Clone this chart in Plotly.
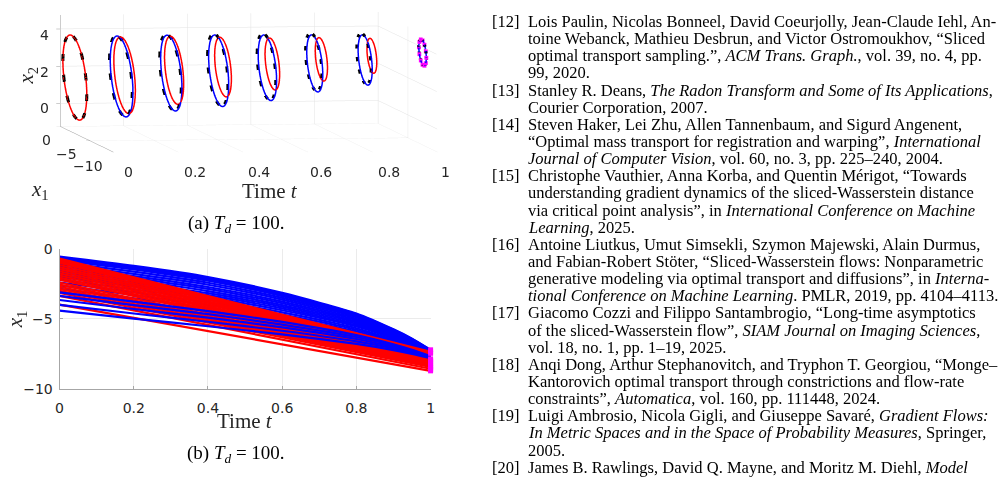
import numpy as np
import plotly.graph_objects as go

W, H = 1007, 488

# ---------------- (a) 3-D snapshots of the particle clouds ----------------
T_SLICES = [0.0, 0.143, 0.286, 0.429, 0.571, 0.714, 0.857, 1.0]
BLACK_C1 = [-2.45, -2.55, -3.25, -3.55, -4.15, -4.45, -5.25, -7.45]
BLACK_C2 = [1.77, 1.85, 2.12, 2.28, 2.52, 2.80, 3.08, 3.73]
BLACK_SCALE = [1.0, 0.95, 0.90, 0.85, 0.78, 0.68, 0.60, 0.31]
BLUE_C1 = [-2.45, -2.67, -3.38, -3.70, -4.30, -4.62, -5.45, -7.45]
BLUE_C2 = [1.77, 1.84, 2.11, 2.26, 2.49, 2.75, 3.04, 3.73]
BLUE_SCALE = [1.0, 0.95, 0.89, 0.84, 0.77, 0.67, 0.59, 0.31]
RED_C1 = [-2.45, -3.17, -3.85, -4.43, -5.13, -5.73, -6.57, -7.45]
RED_C2 = [1.77, 1.98, 2.33, 2.57, 2.82, 3.14, 3.44, 3.73]
RED_SCALE = [1.0, 0.90, 0.80, 0.70, 0.61, 0.51, 0.41, 0.31]
ELL_A = 2.0    # x1 semi-axis of the initial cloud
ELL_B = 2.1    # x2 semi-axis of the initial cloud
ELL_K = 0.59   # x1-x2 coupling (tilt) of the cloud
TARGET_ANGLES_DEG = [0, 30, 60, 90, 120, 150, 180, 210, 240, 270, 300, 330]
T_TICKS = [0, 0.2, 0.4, 0.6, 0.8, 1]
T_TICK_TEXT = ["0", "0.2", "0.4", "0.6", "0.8", "1"]
X1_TICKS = [-10, -5, 0]
X1_TICK_TEXT = ["\u221210", "\u22125", "0"]
X2_TICKS = [0, 2, 4]
X2_TICK_TEXT = ["0", "2", "4"]

# ---------------- (b) x1 trajectories ----------------
BLUE_T = [0.0, 0.2, 0.4, 0.6, 0.8, 0.9, 0.95, 1.0]
BLUE_X1 = [
    [-0.55, -1.22, -2.01, -3.14, -4.61, -5.74, -6.40, -7.20],
    [-0.62, -1.29, -2.09, -3.21, -4.66, -5.77, -6.43, -7.22],
    [-0.70, -1.37, -2.17, -3.28, -4.72, -5.82, -6.47, -7.25],
    [-0.80, -1.47, -2.27, -3.37, -4.79, -5.87, -6.52, -7.28],
    [-0.95, -1.63, -2.42, -3.50, -4.88, -5.94, -6.56, -7.30],
    [-1.10, -1.79, -2.56, -3.62, -4.98, -6.00, -6.61, -7.33],
    [-1.25, -1.94, -2.72, -3.76, -5.08, -6.07, -6.66, -7.36],
    [-1.40, -2.09, -2.86, -3.88, -5.18, -6.15, -6.72, -7.40],
    [-1.55, -2.24, -3.01, -4.01, -5.27, -6.21, -6.76, -7.42],
    [-1.70, -2.40, -3.16, -4.13, -5.36, -6.27, -6.81, -7.45],
    [-1.85, -2.55, -3.30, -4.25, -5.46, -6.34, -6.86, -7.48],
    [-2.00, -2.70, -3.44, -4.38, -5.54, -6.39, -6.90, -7.50],
    [-2.20, -2.89, -3.62, -4.53, -5.66, -6.48, -6.96, -7.53],
    [-2.40, -3.09, -3.81, -4.69, -5.77, -6.55, -7.01, -7.56],
    [-2.60, -3.29, -3.99, -4.84, -5.89, -6.64, -7.08, -7.60],
    [-2.85, -3.53, -4.22, -5.03, -6.02, -6.72, -7.14, -7.63],
    [-3.10, -3.77, -4.44, -5.21, -6.15, -6.81, -7.20, -7.66],
    [-3.35, -4.01, -4.66, -5.40, -6.29, -6.90, -7.27, -7.70],
    [-3.65, -4.29, -4.91, -5.60, -6.43, -7.00, -7.34, -7.73],
    [-4.00, -4.61, -5.20, -5.84, -6.60, -7.10, -7.41, -7.76],
    [-4.40, -4.98, -5.52, -6.10, -6.78, -7.22, -7.49, -7.80],
]
N_BLUE_UNDER = 16          # first blue curves are drawn beneath the red ones
RED_T = [0.0, 1.0]
RED_START = [-0.70, -0.80, -0.90, -1.00, -1.15, -1.30, -1.45, -1.60, -1.75, -1.90,
             -2.05, -2.20, -2.40, -2.55, -2.70, -2.85, -3.00, -3.15, -3.35, -3.98]
RED_END = [-7.35, -7.42, -7.48, -7.55, -7.62, -7.68, -7.74, -7.80, -7.86, -7.92,
           -7.98, -8.04, -8.10, -8.16, -8.22, -8.28, -8.34, -8.42, -8.55, -8.70]
TARGET_T = 1.0
TARGET_X1 = [-7.20, -7.35, -7.45, -7.85, -7.95, -8.05, -8.20, -8.30, -8.40, -8.50, -8.60, -8.70]

# ---------------- reference list (right column) ----------------
REF_NUMS = ["[12]", "[13]", "[14]", "[15]", "[16]", "[17]", "[18]", "[19]", "[20]"]
REF_LINES = [
    ["Lois Paulin, Nicolas Bonneel, David Coeurjolly, Jean-Claude Iehl, An-",
     "toine Webanck, Mathieu Desbrun, and Victor Ostromoukhov, \u201cSliced",
     "optimal transport sampling.\u201d, <i>ACM Trans. Graph.</i>, vol. 39, no. 4, pp.",
     "99, 2020."],
    ["Stanley R. Deans, <i>The Radon Transform and Some of Its Applications</i>,",
     "Courier Corporation, 2007."],
    ["Steven Haker, Lei Zhu, Allen Tannenbaum, and Sigurd Angenent,",
     "\u201cOptimal mass transport for registration and warping\u201d, <i>International</i>",
     "<i>Journal of Computer Vision</i>, vol. 60, no. 3, pp. 225\u2013240, 2004."],
    ["Christophe Vauthier, Anna Korba, and Quentin M\u00e9rigot, \u201cTowards",
     "understanding gradient dynamics of the sliced-Wasserstein distance",
     "via critical point analysis\u201d, in <i>International Conference on Machine</i>",
     "<i>Learning</i>, 2025."],
    ["Antoine Liutkus, Umut Simsekli, Szymon Majewski, Alain Durmus,",
     "and Fabian-Robert St\u00f6ter, \u201cSliced-Wasserstein flows: Nonparametric",
     "generative modeling via optimal transport and diffusions\u201d, in <i>Interna-</i>",
     "<i>tional Conference on Machine Learning</i>. PMLR, 2019, pp. 4104\u20134113."],
    ["Giacomo Cozzi and Filippo Santambrogio, \u201cLong-time asymptotics",
     "of the sliced-Wasserstein flow\u201d, <i>SIAM Journal on Imaging Sciences</i>,",
     "vol. 18, no. 1, pp. 1\u201319, 2025."],
    ["Anqi Dong, Arthur Stephanovitch, and Tryphon T. Georgiou, \u201cMonge\u2013",
     "Kantorovich optimal transport through constrictions and flow-rate",
     "constraints\u201d, <i>Automatica</i>, vol. 160, pp. 111448, 2024."],
    ["Luigi Ambrosio, Nicola Gigli, and Giuseppe Savar\u00e9, <i>Gradient Flows:</i>",
     "<i>In Metric Spaces and in the Space of Probability Measures</i>, Springer,",
     "2005."],
    ["James B. Rawlings, David Q. Mayne, and Moritz M. Diehl, <i>Model</i>"],
]

SERIF = "Liberation Serif"
SANS = "DejaVu Sans"
TICK_COLOR = "#262626"

fig = go.Figure()

# ---- 3-D traces ----
theta = np.linspace(0.0, 2.0 * np.pi, 121)


def cloud(t, c1, c2, s):
    x1 = c1 + s * ELL_A * np.cos(theta)
    x2 = c2 + s * (ELL_B * np.sin(theta) + ELL_K * np.cos(theta))
    return np.full_like(theta, t), x1, x2


last = len(T_SLICES) - 1
for k, t in enumerate(T_SLICES):
    tx, a1, a2 = cloud(t, BLACK_C1[k], BLACK_C2[k], BLACK_SCALE[k])
    fig.add_trace(go.Scatter3d(x=tx, y=a1, z=a2, mode="lines", scene="scene",
                               line=dict(color="black", width=6, dash="longdash"),
                               showlegend=False, hoverinfo="skip"))
for k, t in enumerate(T_SLICES):
    if k != last:
        tx, a1, a2 = cloud(t, RED_C1[k], RED_C2[k], RED_SCALE[k])
        fig.add_trace(go.Scatter3d(x=tx, y=a1, z=a2, mode="lines", scene="scene",
                                   line=dict(color="#ff0000", width=3),
                                   showlegend=False, hoverinfo="skip"))
    if k != 0:
        tx, a1, a2 = cloud(t, BLUE_C1[k], BLUE_C2[k], BLUE_SCALE[k])
        fig.add_trace(go.Scatter3d(x=tx, y=a1, z=a2, mode="lines", scene="scene",
                                   line=dict(color="#0000ff", width=3),
                                   showlegend=False, hoverinfo="skip"))

ang = np.deg2rad(np.array(TARGET_ANGLES_DEG, dtype=float))
fig.add_trace(go.Scatter3d(
    x=np.full_like(ang, T_SLICES[last]),
    y=BLUE_C1[last] + BLUE_SCALE[last] * ELL_A * np.cos(ang),
    z=BLUE_C2[last] + BLUE_SCALE[last] * (ELL_B * np.sin(ang) + ELL_K * np.cos(ang)),
    mode="markers", scene="scene",
    marker=dict(symbol="square", size=2, color="#ff00ff"),
    showlegend=False, hoverinfo="skip"))

# ---- 2-D trajectories ----
blue_line = dict(color="#0000ff", width=2.2, shape="spline", smoothing=0.6)
red_line = dict(color="#ff0000", width=2.2)
for i in range(N_BLUE_UNDER):
    fig.add_trace(go.Scatter(x=BLUE_T, y=BLUE_X1[i], mode="lines", line=blue_line,
                             showlegend=False, hoverinfo="skip"))
for s0, s1 in zip(RED_START, RED_END):
    fig.add_trace(go.Scatter(x=RED_T, y=[s0, s1], mode="lines", line=red_line,
                             showlegend=False, hoverinfo="skip"))
for i in range(N_BLUE_UNDER, len(BLUE_X1)):
    fig.add_trace(go.Scatter(x=BLUE_T, y=BLUE_X1[i], mode="lines", line=blue_line,
                             showlegend=False, hoverinfo="skip"))
fig.add_trace(go.Scatter(x=[TARGET_T] * len(TARGET_X1), y=TARGET_X1, mode="markers",
                         marker=dict(symbol="square", size=5, color="#ff00ff"),
                         showlegend=False, hoverinfo="skip", cliponaxis=False))

ax3 = dict(showbackground=False, gridcolor="#e3e3e3", gridwidth=1,
           showline=True, linecolor="#9a9a9a", zeroline=False, showspikes=False,
           ticks="outside", ticklen=4, tickcolor="#9a9a9a", showticklabels=False,
           title=dict(text=""))

S = 2.72
ASP = dict(x=1 * S, y=1.347 * S, z=0.348 * S)
CENTER_Z = -0.36
# eye is an absolute position: keep it ~4 degrees above the look-at point
EYE = dict(x=-0.2203, y=-1.5805, z=CENTER_Z + 0.1077)
fig.update_layout(
    width=W, height=H, margin=dict(l=0, r=0, t=0, b=0),
    paper_bgcolor="white", plot_bgcolor="white",
    scene=dict(
        domain=dict(x=[0.0, 0.49], y=[0.5, 1.0]),
        xaxis=dict(ax3, range=[0, 1], tickvals=T_TICKS),
        yaxis=dict(ax3, range=[-10, 0], tickvals=X1_TICKS),
        zaxis=dict(ax3, range=[-1.23, 4.75], tickvals=X2_TICKS),
        aspectmode="manual", aspectratio=ASP,
        camera=dict(eye=EYE, center=dict(x=0, y=0, z=CENTER_Z), up=dict(x=0, y=0, z=1),
                    projection=dict(type="orthographic")),
        bgcolor="white",
    ),
    xaxis=dict(domain=[56 / W, 430 / W], range=[0, 1],
               tickvals=T_TICKS, ticktext=T_TICK_TEXT,
               showgrid=True, gridcolor="#ebebeb", zeroline=False,
               showline=True, linecolor="#a6a6a6", linewidth=1,
               ticks="inside", ticklen=3, tickcolor="#a6a6a6", ticklabelstandoff=6,
               tickfont=dict(family=SANS, size=14, color=TICK_COLOR)),
    yaxis=dict(domain=[1 - 394 / H, 1 - 249 / H], range=[-10, 0],
               tickvals=X1_TICKS, ticktext=X1_TICK_TEXT,
               showgrid=True, gridcolor="#ebebeb", zeroline=False,
               showline=True, linecolor="#a6a6a6", linewidth=1,
               ticks="inside", ticklen=3, tickcolor="#a6a6a6", ticklabelstandoff=3,
               tickfont=dict(family=SANS, size=14, color=TICK_COLOR)),
)


def ann(px, py, text, size, family=SERIF, xanchor="center", angle=0, color="black"):
    fig.add_annotation(x=px / W, y=1 - py / H, xref="paper", yref="paper", text=text,
                       showarrow=False, xanchor=xanchor, yanchor="middle", textangle=angle,
                       font=dict(family=family, size=size, color=color))


# tick labels of the 3-D box (placed along its projected edges)
for txt, px in zip(T_TICK_TEXT, [125, 193, 257, 320, 388, 445]):
    ann(px, 170, txt, 14, family=SANS, color=TICK_COLOR)
for txt, (px, py) in zip(X1_TICK_TEXT, [(85, 163), (63, 151), (43, 136)]):
    ann(px, py, txt, 14, family=SANS, color=TICK_COLOR)
for txt, py in zip(X2_TICK_TEXT, [103, 66, 28]):
    ann(41, py, txt, 14, family=SANS, color=TICK_COLOR)

# titles of (a)
ann(268, 189, "Time <i>t</i>", 21, color=TICK_COLOR)
ann(36, 188, "<i>x</i><sub>1</sub>", 21, color=TICK_COLOR)
ann(23, 70, "<i>x</i><sub>2</sub>", 21, angle=-90, color=TICK_COLOR)
ann(234, 223.5, "(a) <i>T</i><sub><i>d</i></sub> = 100.", 19)
# titles of (b)
ann(243, 427, "Time <i>t</i>", 21, color=TICK_COLOR)
ann(13, 322, "<i>x</i><sub>1</sub>", 21, angle=-90, color=TICK_COLOR)
ann(234, 461.5, "(b) <i>T</i><sub><i>d</i></sub> = 100.", 19)

# reference list
n = 0
for num, lines in zip(REF_NUMS, REF_LINES):
    ann(490, 14 + 17.72 * n, num, 16.5, xanchor="left")
    for ln in lines:
        ann(526, 14 + 17.72 * n, ln, 16.5, xanchor="left")
        n += 1

fig.write_html("out.html")
